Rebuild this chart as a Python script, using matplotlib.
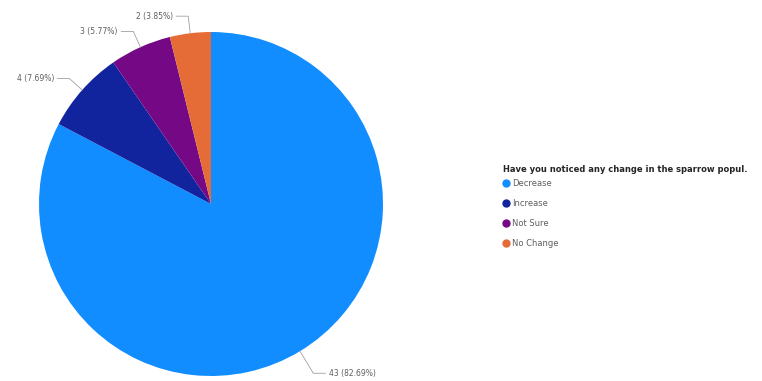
import numpy as np
import matplotlib
matplotlib.use("Agg")
import matplotlib.pyplot as plt
from matplotlib.lines import Line2D

categories = ["Decrease", "Increase", "Not Sure", "No Change"]
counts = [43, 4, 3, 2]
colors = ["#118DFF", "#12239E", "#750985", "#E66C37"]
legend_title = "Have you noticed any change in the sparrow popul."

W, H = 762, 381
fig = plt.figure(figsize=(W / 100, H / 100), dpi=100)

# pie centre and radius in pixels
cx, cy, r = 211, 204, 172
ax = fig.add_axes([(cx - r) / W, (H - cy - r) / H, 2 * r / W, 2 * r / H])

wedges, _ = ax.pie(counts, colors=colors, startangle=90, counterclock=False,
                   radius=1, wedgeprops=dict(linewidth=0))
ax.set_xlim(-1, 1)
ax.set_ylim(-1, 1)
ax.set_aspect("auto")
ax.axis("off")

total = sum(counts)
for w, c in zip(wedges, counts):
    ang = np.deg2rad((w.theta1 + w.theta2) / 2)
    x0, y0 = np.cos(ang), np.sin(ang)
    k = 1.1 if x0 < 0 else 1.15
    x1, y1 = k * x0, k * y0
    side = 1 if x0 > 0 else -1
    x2 = x1 + side * 0.07
    ax.plot([x0, x1, x2], [y0, y1, y1], color="#A0A0A0", lw=0.6, clip_on=False)
    ax.text(x2 + side * 0.02, y1, "%d (%.2f%%)" % (c, 100 * c / total),
            ha="left" if side > 0 else "right", va="center",
            fontsize=5.5, color="#605E5C", clip_on=False)

fig.text(503 / W, 1 - 170 / H, legend_title, fontsize=6, fontweight="bold",
         color="#252423", ha="left", va="center")
handles = [Line2D([], [], marker="o", linestyle="", markersize=5,
                  markerfacecolor=col, markeredgecolor=col) for col in colors]
leg = fig.legend(handles, categories,
                 loc="upper left", bbox_to_anchor=(503 / W, 1 - 179 / H),
                 frameon=False, fontsize=6,
                 handlelength=0.6, handletextpad=0.5, labelspacing=1.3,
                 borderpad=0, borderaxespad=0)
for t in leg.get_texts():
    t.set_color("#605E5C")

fig.savefig("out.png", dpi=100)
